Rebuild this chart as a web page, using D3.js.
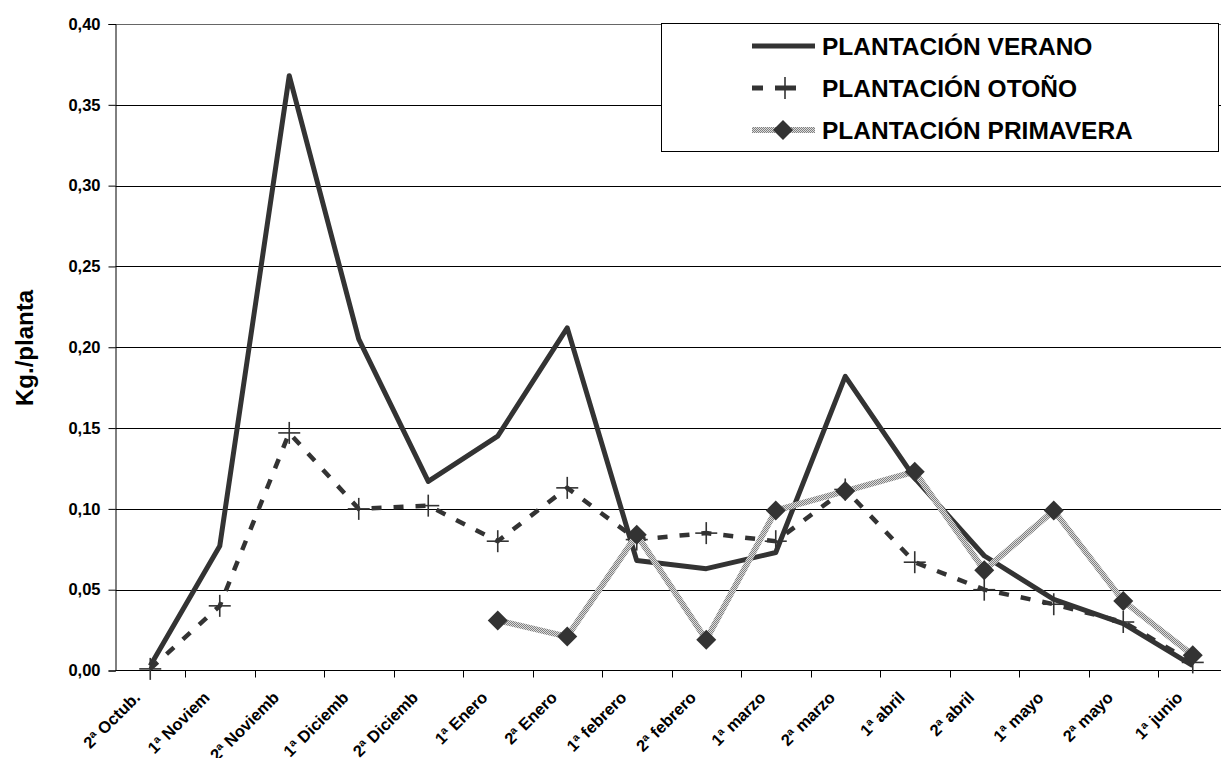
<!DOCTYPE html>
<html>
<head>
<meta charset="utf-8">
<script src="https://cdn.jsdelivr.net/npm/d3@7"></script>
<style>
  html, body { margin: 0; padding: 0; background: #fff; }
  svg { display: block; font-family: "Liberation Sans", Arial, sans-serif; }
</style>
</head>
<body>
<svg id="chart" width="1221" height="758"></svg>
<script>
// Periods (quincenas) of harvest
const periods = ["2ª Octub.", "1ª Noviem", "2ª Noviemb", "1ª Diciemb", "2ª Diciemb", "1ª Enero",
  "2ª Enero", "1ª febrero", "2ª febrero", "1ª marzo", "2ª marzo", "1ª abril", "2ª abril",
  "1ª mayo", "2ª mayo", "1ª junio"];

// Kg per plant for each planting season (null = no harvest yet)
const verano = [0.003, 0.077, 0.368, 0.205, 0.117, 0.145, 0.212, 0.068, 0.063, 0.073,
  0.182, 0.119, 0.071, 0.044, 0.029, 0.003];
const otono = [0.001, 0.040, 0.147, 0.100, 0.102, 0.080, 0.113, 0.081, 0.085, 0.080,
  0.112, 0.067, 0.050, 0.041, 0.030, 0.005];
const primavera = [null, null, null, null, null, 0.031, 0.021, 0.084, 0.019, 0.099,
  0.111, 0.123, 0.062, 0.099, 0.043, 0.0095];

const yTicks = [0, 0.05, 0.10, 0.15, 0.20, 0.25, 0.30, 0.35, 0.40];
const seriesNames = ["PLANTACIÓN VERANO", "PLANTACIÓN OTOÑO", "PLANTACIÓN PRIMAVERA"];

const svg = d3.select("#chart");
const W = 1221;
const plot = { left: 115.5, right: 1227.5, top: 24, bottom: 670.5 };

// textured stroke used by the spring series
const defs = svg.append("defs");
const pat = defs.append("pattern").attr("id", "checker")
  .attr("patternUnits", "userSpaceOnUse").attr("width", 2).attr("height", 2);
pat.append("rect").attr("width", 2).attr("height", 2).attr("fill", "#dcdcdc");
pat.append("rect").attr("width", 1).attr("height", 1).attr("fill", "#808080");
pat.append("rect").attr("x", 1).attr("y", 1).attr("width", 1).attr("height", 1).attr("fill", "#808080");

const x = d3.scaleBand().domain(periods).range([plot.left, plot.right]).paddingInner(0).paddingOuter(0);
const cx = d => x(d) + x.bandwidth() / 2;
const y = d3.scaleLinear().domain([0, 0.40]).range([plot.bottom, plot.top]);
const fmt = v => d3.format(".2f")(v).replace(".", ",");

// horizontal gridlines
svg.append("g")
  .selectAll("line").data(yTicks.filter(t => t > 0)).join("line")
  .attr("x1", plot.left).attr("x2", W)
  .attr("y1", d => Math.round(y(d)) + 0.5).attr("y2", d => Math.round(y(d)) + 0.5)
  .attr("stroke", d => d === 0.40 ? "#666" : "#000").attr("stroke-width", 1);

// y axis
const yAxis = svg.append("g")
  .attr("transform", `translate(${plot.left},0)`)
  .call(d3.axisLeft(y).tickValues(yTicks).tickFormat(fmt).tickSize(7).tickPadding(8));
yAxis.select(".domain").attr("stroke", "#000");
yAxis.selectAll(".tick line").attr("stroke", "#000");
yAxis.selectAll("text").attr("font-size", 16.5).attr("font-weight", "bold").attr("fill", "#000")
  .attr("font-family", "Liberation Sans, Arial, sans-serif");

// x axis: ticks at band boundaries
const xAxisG = svg.append("g");
xAxisG.append("line").attr("x1", plot.left).attr("x2", W)
  .attr("y1", plot.bottom).attr("y2", plot.bottom).attr("stroke", "#000").attr("stroke-width", 1.2);
xAxisG.selectAll("line.tk").data(periods.slice(1)).join("line").attr("class", "tk")
  .attr("x1", d => Math.round(x(d)) + 0.5).attr("x2", d => Math.round(x(d)) + 0.5)
  .attr("y1", plot.bottom).attr("y2", plot.bottom + 7).attr("stroke", "#000");
xAxisG.selectAll("text").data(periods).join("text")
  .attr("transform", d => `translate(${cx(d) - 9},${plot.bottom + 28}) rotate(-45)`)
  .attr("text-anchor", "end")
  .attr("font-size", 16.5).attr("font-weight", "bold").attr("fill", "#000")
  .text(d => d);

// y title
svg.append("text")
  .attr("transform", `translate(33,348) rotate(-90)`)
  .attr("text-anchor", "middle")
  .attr("font-size", 24).attr("font-weight", "bold").attr("fill", "#000")
  .text("Kg./planta");

const line = d3.line()
  .defined(d => d.v !== null)
  .x(d => cx(d.p)).y(d => y(d.v));
const toPts = arr => periods.map((p, i) => ({ p, v: arr[i] }));

// summer planting: solid line
svg.append("path").datum(toPts(verano))
  .attr("d", line).attr("fill", "none")
  .attr("stroke", "#333").attr("stroke-width", 5).attr("stroke-linejoin", "round");

// autumn planting: dashed line with + markers
svg.append("path").datum(toPts(otono))
  .attr("d", line).attr("fill", "none")
  .attr("stroke", "#333").attr("stroke-width", 4.5).attr("stroke-dasharray", "10,12");
const plus = svg.append("g");
toPts(otono).forEach(d => {
  const px = cx(d.p), py = y(d.v);
  plus.append("line").attr("x1", px).attr("x2", px).attr("y1", py - 11).attr("y2", py + 11)
    .attr("stroke", "#333").attr("stroke-width", 1.6);
  plus.append("line").attr("x1", px - 11).attr("x2", px + 11).attr("y1", py).attr("y2", py)
    .attr("stroke", "#333").attr("stroke-width", 1.6);
});

// spring planting: textured line with diamond markers
const prim = toPts(primavera);
svg.append("path").datum(prim)
  .attr("d", line).attr("fill", "none")
  .attr("stroke", "url(#checker)").attr("stroke-width", 6).attr("stroke-linejoin", "round");
svg.append("g").selectAll("path").data(prim.filter(d => d.v !== null)).join("path")
  .attr("d", "M0,-10L10,0L0,10L-10,0Z")
  .attr("transform", d => `translate(${cx(d.p)},${y(d.v)})`)
  .attr("fill", "#333");

// legend
const lg = svg.append("g");
lg.append("rect").attr("x", 661.5).attr("y", 23.5).attr("width", 557).attr("height", 128)
  .attr("fill", "#fff").attr("stroke", "#000").attr("stroke-width", 1);
const rows = [46, 88, 130];
rows.forEach((ry, i) => {
  lg.append("text").attr("x", 822).attr("y", ry + 9)
    .attr("font-size", 24.5).attr("font-weight", "bold").attr("fill", "#000")
    .text(seriesNames[i]);
});
lg.append("line").attr("x1", 752).attr("x2", 815).attr("y1", rows[0]).attr("y2", rows[0])
  .attr("stroke", "#333").attr("stroke-width", 5);
lg.append("line").attr("x1", 752).attr("x2", 763).attr("y1", rows[1]).attr("y2", rows[1])
  .attr("stroke", "#333").attr("stroke-width", 5);
lg.append("line").attr("x1", 775).attr("x2", 796).attr("y1", rows[1]).attr("y2", rows[1])
  .attr("stroke", "#333").attr("stroke-width", 5);
lg.append("line").attr("x1", 785).attr("x2", 785).attr("y1", rows[1] - 11).attr("y2", rows[1] + 11)
  .attr("stroke", "#333").attr("stroke-width", 1.6);
lg.append("line").attr("x1", 752).attr("x2", 815).attr("y1", rows[2]).attr("y2", rows[2])
  .attr("stroke", "url(#checker)").attr("stroke-width", 6);
lg.append("path").attr("d", "M0,-10L10,0L0,10L-10,0Z")
  .attr("transform", `translate(783,${rows[2]})`).attr("fill", "#333");
</script>
</body>
</html>
